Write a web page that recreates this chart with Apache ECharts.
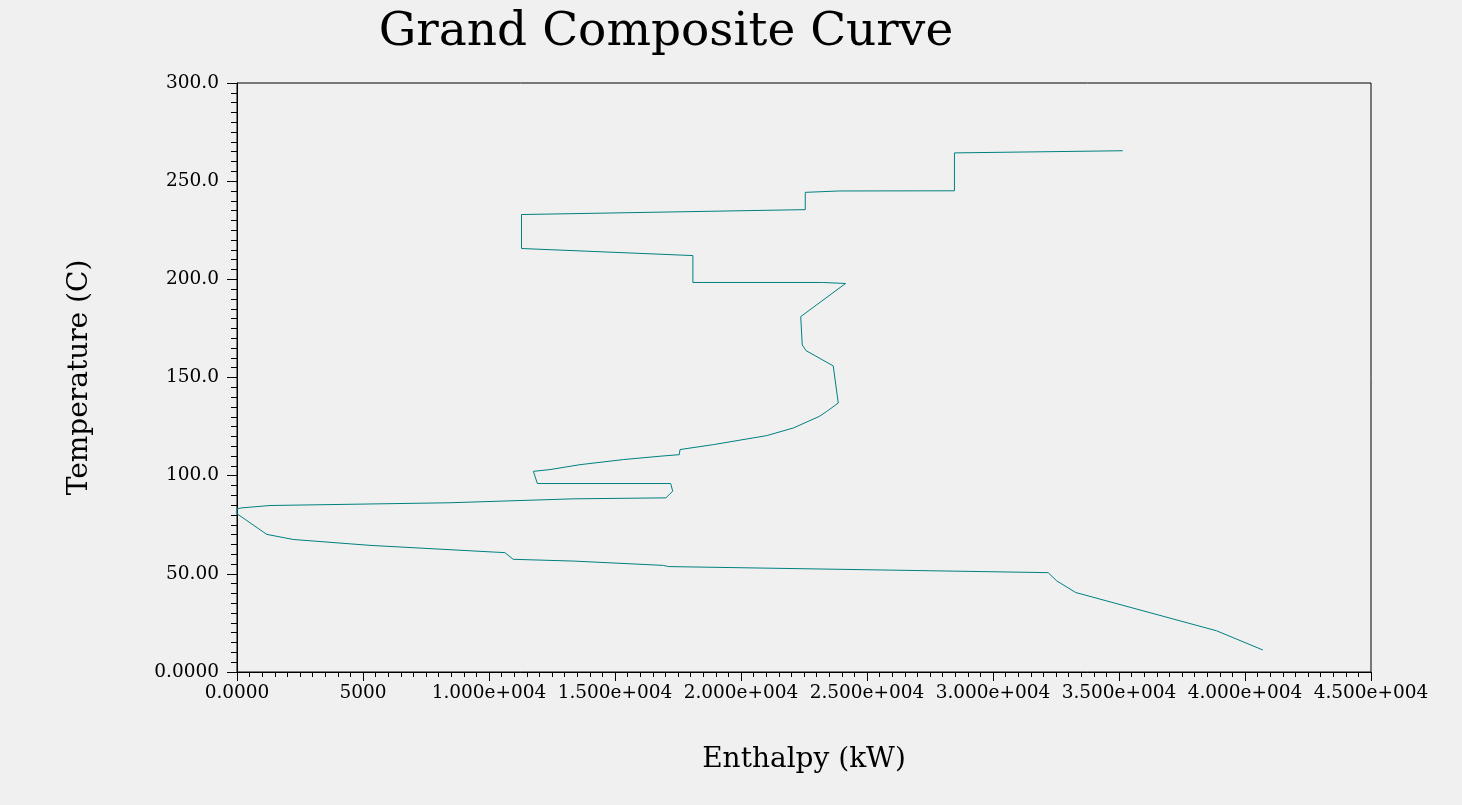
<!DOCTYPE html>
<html>
<head>
<meta charset="utf-8">
<title>Grand Composite Curve</title>
<script src="https://cdn.jsdelivr.net/npm/echarts@6/dist/echarts.min.js"></script>
<style>
    html, body { margin: 0; padding: 0; background: #f0f0f0; }
    #chart { width: 1462px; height: 805px; }
</style>
</head>
<body>
<div id="chart"></div>
<script>
// enthalpy (kW) and temperature (C) along the curve, hot end first
var enthalpy = [35150, 28470, 28470, 23900, 22550, 22550, 11290, 11290, 18090, 18090,
    23240, 24150, 22370, 22430, 22580, 23660, 23860, 23400, 23110, 22080,
    21020, 18900, 17580, 17550, 16790, 15330, 13610, 12420, 11760, 11920,
    17210, 17290, 17020, 13350, 8450, 1310, 190, 0, 0, 1180,
    2230, 5280, 10170, 10630, 10960, 13350, 16920, 17120, 19560, 32190,
    32530, 33280, 38870, 40710];
var temperature = [265.5, 264.4, 245.1, 245.0, 244.3, 235.5, 233.0, 215.7, 212.1, 198.4,
    198.4, 197.9, 181.0, 166.6, 163.7, 155.9, 137.0, 132.7, 130.2, 124.3,
    120.4, 115.8, 113.3, 110.7, 109.9, 108.2, 105.6, 103.1, 102.2, 96.0,
    96.0, 92.1, 88.7, 88.2, 86.2, 84.8, 83.6, 83.1, 80.6, 70.1,
    67.5, 64.5, 61.1, 60.8, 57.4, 56.5, 54.3, 53.7, 53.2, 50.6,
    46.4, 40.5, 21.0, 11.2];

var xTickLabels = ['0.0000', '5000', '1.000e+004', '1.500e+004', '2.000e+004',
    '2.500e+004', '3.000e+004', '3.500e+004', '4.000e+004', '4.500e+004'];
var yTickLabels = ['0.0000', '50.00', '100.0', '150.0', '200.0', '250.0', '300.0'];

var fontName = 'DejaVu Serif';

var points = [];
for (var i = 0; i < enthalpy.length; i++) {
    points.push([enthalpy[i], temperature[i]]);
}

var option = {
    backgroundColor: '#f0f0f0',
    animation: false,
    title: {
        text: 'Grand Composite Curve',
        left: 661,
        top: 4,
        textAlign: 'center',
        textStyle: {
            fontFamily: fontName,
            fontSize: 47,
            fontWeight: 'normal',
            color: '#000'
        }
    },
    grid: {
        show: true,
        left: 237,
        right: 91,
        top: 83,
        bottom: 133,
        borderColor: '#000',
        borderWidth: 1,
        backgroundColor: 'transparent'
    },
    xAxis: {
        type: 'value',
        min: 0,
        max: 45000,
        interval: 5000,
        name: 'Enthalpy (kW)',
        nameLocation: 'middle',
        nameGap: 74,
        nameTextStyle: { fontFamily: fontName, fontSize: 28, color: '#000' },
        axisLine: { show: true, onZero: false, lineStyle: { color: '#000', width: 1 } },
        axisTick: { show: true, inside: false, length: 9, lineStyle: { color: '#000' } },
        minorTick: { show: true, splitNumber: 10, length: 5, lineStyle: { color: '#000' } },
        splitLine: { show: false },
        axisLabel: {
            margin: 12,
            fontFamily: fontName,
            fontSize: 18.5,
            color: '#000',
            formatter: function (v) { return xTickLabels[Math.round(v / 5000)]; }
        }
    },
    yAxis: {
        type: 'value',
        min: 0,
        max: 300,
        interval: 50,
        name: 'Temperature (C)',
        nameLocation: 'middle',
        nameRotate: 90,
        nameGap: 143,
        nameTextStyle: { fontFamily: fontName, fontSize: 28, color: '#000' },
        axisLine: { show: true, onZero: false, lineStyle: { color: '#000', width: 1 } },
        axisTick: { show: true, inside: false, length: 10, lineStyle: { color: '#000' } },
        minorTick: { show: true, splitNumber: 10, length: 6, lineStyle: { color: '#000' } },
        splitLine: { show: false },
        axisLabel: {
            margin: 18,
            fontFamily: fontName,
            fontSize: 18.5,
            color: '#000',
            formatter: function (v) { return yTickLabels[Math.round(v / 50)]; }
        }
    },
    series: [
        {
            name: 'GCC',
            type: 'line',
            data: points,
            showSymbol: false,
            symbol: 'none',
            smooth: false,
            lineStyle: { color: '#008080', width: 1 }
        }
    ]
};

var myChart = echarts.init(document.getElementById('chart'));
myChart.setOption(option);
</script>
</body>
</html>
